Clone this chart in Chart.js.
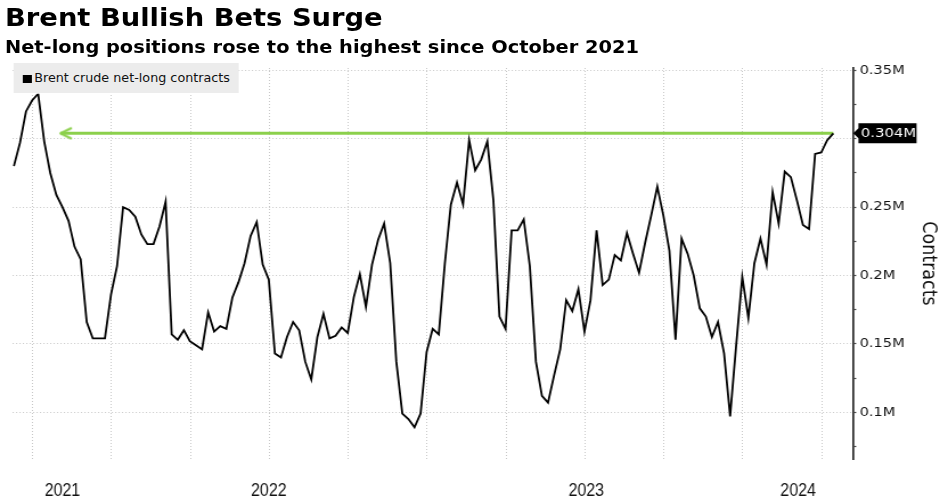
<!DOCTYPE html>
<html>
<head>
<meta charset="utf-8">
<script src="https://cdn.jsdelivr.net/npm/chart.js@4.4.1/dist/chart.umd.min.js"></script>
<style>
  html, body { margin: 0; padding: 0; background: #fff; overflow: hidden; }
  /* the whole picture is a bit wider than the fonts, so stretch it */
  #wrap { position: absolute; left: 0; top: 0; width: 825px; height: 502px;
          transform: scaleX(1.1394); transform-origin: 0 0;
          font-family: "DejaVu Sans", sans-serif; color: #000; }
  #chart { position: absolute; left: 0; top: 0; }
  .head { position: absolute; left: 4.4px; font-weight: bold; white-space: nowrap; }
  #title { top: 6.2px; font-size: 24px; line-height: 24px; }
  #subtitle { top: 38.9px; font-size: 17px; line-height: 17px; }
  #legend { position: absolute; left: 11.7px; top: 63.3px; width: 197px; height: 30px; background: #ececec; }
  #legend .sq { position: absolute; left: 8.2px; top: 11.7px; width: 8px; height: 8px; background: #000; }
  #legend .txt { position: absolute; left: 18.4px; top: 9.2px; font-size: 12.8px; line-height: 12.8px;
                 white-space: nowrap; color: #111; transform: scaleX(0.875); transform-origin: 0 0; }
</style>
</head>
<body>
<div id="wrap">
  <canvas id="chart" width="825" height="502"></canvas>
  <div id="title" class="head">Brent Bullish Bets Surge</div>
  <div id="subtitle" class="head">Net-long positions rose to the highest since October 2021</div>
  <div id="legend"><div class="sq"></div><div class="txt">Brent crude net-long contracts</div></div>
</div>
<script>
// weekly net-long positions, millions of contracts (week 0 .. 135)
const netLong = [
  0.280, 0.297, 0.320, 0.328, 0.333, 0.298, 0.275, 0.259, 0.250, 0.240,
  0.221, 0.212, 0.166, 0.154, 0.154, 0.154, 0.186, 0.207, 0.250, 0.248,
  0.243, 0.230, 0.223, 0.223, 0.236, 0.254, 0.157, 0.153, 0.160, 0.152,
  0.149, 0.146, 0.173, 0.159, 0.163, 0.161, 0.184, 0.195, 0.209, 0.229,
  0.239, 0.208, 0.197, 0.143, 0.140, 0.155, 0.166, 0.160, 0.137, 0.124,
  0.155, 0.172, 0.154, 0.156, 0.162, 0.158, 0.184, 0.201, 0.177, 0.208,
  0.226, 0.238, 0.209, 0.137, 0.099, 0.095, 0.089, 0.099, 0.144, 0.161,
  0.157, 0.209, 0.252, 0.268, 0.252, 0.299, 0.277, 0.285, 0.298, 0.255,
  0.170, 0.161, 0.233, 0.233, 0.241, 0.207, 0.137, 0.112, 0.107, 0.127,
  0.146, 0.182, 0.174, 0.190, 0.159, 0.182, 0.233, 0.193, 0.197, 0.215,
  0.211, 0.231, 0.216, 0.202, 0.224, 0.244, 0.265, 0.244, 0.218, 0.153,
  0.227, 0.216, 0.200, 0.176, 0.170, 0.155, 0.166, 0.143, 0.097, 0.149,
  0.199, 0.169, 0.209, 0.227, 0.208, 0.261, 0.238, 0.276, 0.272, 0.255,
  0.237, 0.234, 0.289, 0.290, 0.299, 0.304
];

// green "highest since" marker: from week to week at a level
const arrowWeeks = [7.7, 135];
const arrowLevel = 0.304;

// x axis: quarterly grid lines and year labels (in weeks)
const quarterWeeks = [3.1, 16.1, 29.1, 42.1, 55.1, 68.1, 81.1, 94.1, 107.1, 120.1, 133.1];
const yearWeeks = [8, 42, 94.3, 129.2];
const yearLabels = ["2021", "2022", "2023", "2024"];

// y axis ticks
const yTicks = [0.1, 0.15, 0.2, 0.25, 0.3, 0.35];
const yTickLabels = ["0.1M", "0.15M", "0.2M", "0.25M", "0.3M", "0.35M"];
const yMinorTicks = [0.075, 0.125, 0.175, 0.225, 0.275, 0.325];

const gridColor = "#c9c9c9";
const arrowColor = "#8cd04c";

// chevron used as the arrow head (tip sits in the centre of the canvas)
function makeChevron() {
  const c = document.createElement("canvas");
  c.width = 22;
  c.height = 14;
  const g = c.getContext("2d");
  g.strokeStyle = arrowColor;
  g.lineWidth = 2.3;
  g.lineCap = "round";
  g.lineJoin = "round";
  g.beginPath();
  g.moveTo(20, 2);
  g.lineTo(11, 7);
  g.lineTo(20, 12);
  g.stroke();
  return c;
}

// year labels in a condensed face, placed by the x scale
const yearTickLabels = {
  id: "yearTickLabels",
  afterDraw(chart) {
    const x = chart.scales.x;
    const ctx = chart.ctx;
    ctx.save();
    ctx.fillStyle = "#111";
    ctx.font = '18px "Liberation Sans", sans-serif';
    ctx.textAlign = "center";
    ctx.textBaseline = "middle";
    yearWeeks.forEach((w, i) => {
      ctx.save();
      ctx.translate(x.getPixelForValue(w), x.top + 32);
      ctx.scale(0.78, 1);
      ctx.fillText(yearLabels[i], 0, 0);
      ctx.restore();
    });
    ctx.restore();
  },
};

// black tag with the last value on the axis
const lastValueTag = {
  id: "lastValueTag",
  afterDraw(chart) {
    const y = chart.scales.y;
    const ctx = chart.ctx;
    const last = netLong[netLong.length - 1];
    const py = y.getPixelForValue(last);
    const x0 = y.left;
    ctx.save();
    ctx.fillStyle = "#000";
    ctx.beginPath();
    ctx.moveTo(x0 + 0.5, py);
    ctx.lineTo(x0 + 5, py - 5);
    ctx.lineTo(x0 + 5, py - 10);
    ctx.lineTo(x0 + 56, py - 10);
    ctx.lineTo(x0 + 56, py + 10);
    ctx.lineTo(x0 + 5, py + 10);
    ctx.lineTo(x0 + 5, py + 5);
    ctx.closePath();
    ctx.fill();
    ctx.fillStyle = "#fff";
    ctx.font = '13px "DejaVu Sans"';
    ctx.textBaseline = "middle";
    ctx.fillText(last.toFixed(3) + "M", x0 + 7.2, py + 0.5);
    ctx.restore();
  },
};

const ctx = document.getElementById("chart").getContext("2d");

new Chart(ctx, {
  type: "line",
  data: {
    datasets: [
      {
        label: "Brent crude net-long contracts",
        data: netLong.map((v, i) => ({ x: i, y: v })),
        borderColor: "#000",
        borderWidth: 1.8,
        pointRadius: 0,
        tension: 0,
      },
      {
        label: "highest since",
        data: arrowWeeks.map((w) => ({ x: w, y: arrowLevel })),
        borderColor: arrowColor,
        borderWidth: 3,
        pointStyle: makeChevron(),
        pointRadius: [4, 0],
        tension: 0,
      },
    ],
  },
  options: {
    responsive: false,
    animation: false,
    layout: { padding: { left: 11.1, top: 68, right: 0, bottom: 0 } },
    plugins: { legend: { display: false }, tooltip: { enabled: false } },
    scales: {
      x: {
        type: "linear",
        min: -0.2,
        max: 138.2,
        afterBuildTicks: (s) => {
          s.ticks = quarterWeeks.map((v) => ({ value: v }));
        },
        afterFit: (s) => { s.height = 43; },
        grid: { color: gridColor, lineWidth: 1, drawTicks: false },
        border: { display: false, dash: [1, 2] },
        ticks: { display: false },
      },
      y: {
        type: "linear",
        position: "right",
        min: 0.0658,
        max: 0.3518,
        afterBuildTicks: (s) => {
          s.ticks = yTicks.concat(yMinorTicks).sort((a, b) => a - b).map((v) => ({ value: v }));
        },
        afterFit: (s) => { s.width = 76.6; },
        grid: {
          color: (c) => (c.tick && yTicks.includes(c.tick.value) ? gridColor : "rgba(0,0,0,0)"),
          lineWidth: 1,
          drawTicks: true,
          tickLength: 3,
          tickColor: "#333",
          tickWidth: 1.2,
        },
        border: { display: true, color: "#333", width: 1.8, dash: [1, 2] },
        ticks: {
          padding: 3,
          color: "#111",
          font: { family: '"DejaVu Sans"', size: 12.8 },
          callback: (v) => {
            const i = yTicks.indexOf(v);
            return i >= 0 ? yTickLabels[i] : "";
          },
        },
        title: {
          display: true,
          text: "Contracts",
          color: "#111",
          padding: 0,
          font: { family: '"DejaVu Sans"', size: 17.5 },
        },
      },
    },
  },
  plugins: [yearTickLabels, lastValueTag],
});
</script>
</body>
</html>
